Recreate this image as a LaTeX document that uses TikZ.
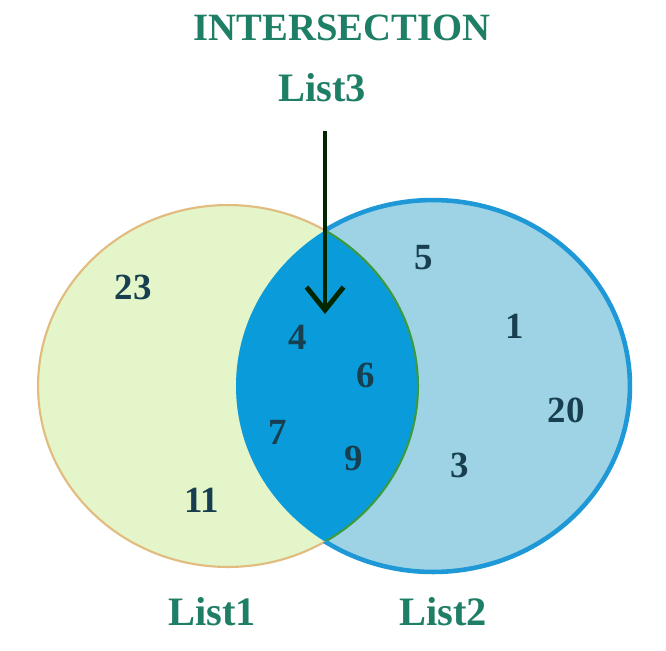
\documentclass[tikz,border=0pt]{standalone}
\usepackage{fontspec}
\setmainfont{Liberation Serif}
\usetikzlibrary{arrows.meta}

\definecolor{leftfill}{HTML}{E3F5C9}
\definecolor{rightfill}{HTML}{9DD3E5}
\definecolor{lensfill}{HTML}{0A9CDA}
\definecolor{rightedge}{HTML}{1E98D6}
\definecolor{leftedge}{HTML}{E2BC7E}
\definecolor{lensedge}{HTML}{3C9A3E}
\definecolor{labeltext}{HTML}{1F7F66}
\definecolor{numtext}{HTML}{173F4F}

\def\leftset{(228,386) ellipse [x radius=3.8cm, y radius=3.62cm]}
\def\rightset{(433,386) ellipse [x radius=3.94cm, y radius=3.72cm]}

\begin{document}
\begin{tikzpicture}[x=0.02cm, y=-0.02cm, >=Stealth,
  title/.style={font=\fontsize{22}{26}\selectfont\bfseries, text=labeltext},
  setname/.style={font=\fontsize{23}{27}\selectfont\bfseries, text=labeltext},
  member/.style={font=\fontsize{21}{24}\selectfont\bfseries, text=numtext},
  pointer/.style={line width=2.8pt, black!85!green,
    -{Straight Barb[length=4.6mm, width=7.4mm]}}]
\useasboundingbox[fill=white] (0,0) rectangle (666,650);

% --- the two sets ---
\fill[leftfill] \leftset;
\fill[rightfill] \rightset;
\begin{scope}
  \clip \rightset;
  \fill[lensfill] \leftset;
  \draw[lensedge, line width=1.2pt] \leftset;
\end{scope}

% outlines outside the other set
\begin{scope}[even odd rule]
  \clip (0,0) rectangle (666,650) \rightset;
  \draw[leftedge, line width=1.2pt] \leftset;
\end{scope}
\begin{scope}[even odd rule]
  \clip (0,0) rectangle (666,650) \leftset;
  \draw[rightedge, line width=2.6pt] \rightset;
\end{scope}

% --- labels ---
\node[title] (title) at (342, 28) {INTERSECTION};
\node[setname] (list3) at (322, 88) {List3};
\node[setname] (list1) at (212, 612) {List1};
\node[setname] (list2) at (443, 612) {List2};

% --- members ---
\node[member] (n23) at (133, 287) {23};
\node[member] (n11) at (202, 500) {11};
\node[member] (n4) at (298, 337) {4};
\node[member] (n6) at (366, 375) {6};
\node[member] (n7) at (278, 432) {7};
\node[member] (n9) at (354, 458) {9};
\node[member] (n5) at (424, 258) {5};
\node[member] (n1) at (515, 326) {1};
\node[member] (n20) at (566, 410) {20};
\node[member] (n3) at (460, 465) {3};

% --- pointer into the intersection ---
\coordinate (tip) at (325, 314);
\draw[pointer, shorten <=0.45cm] (list3.south -| tip) -- (tip);

\end{tikzpicture}
\end{document}
